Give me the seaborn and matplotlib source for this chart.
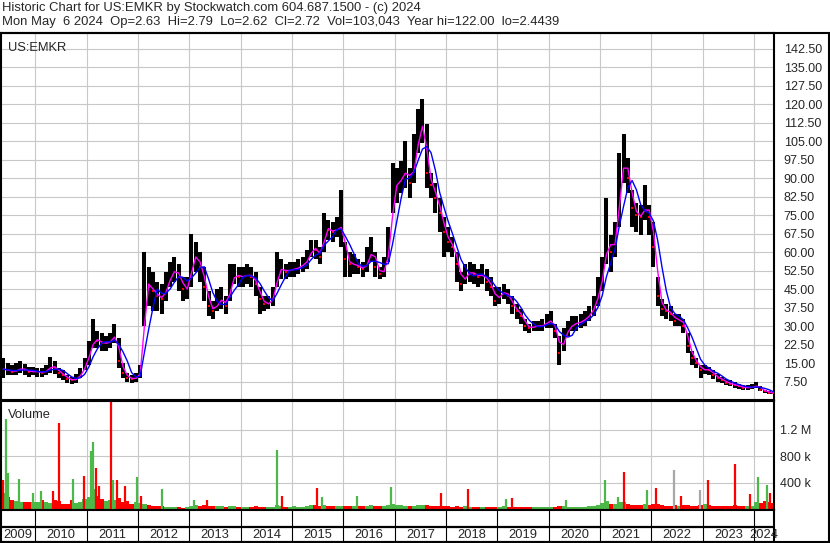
import numpy as np
import pandas as pd
import seaborn as sns
import matplotlib
matplotlib.use("Agg")
import matplotlib.pyplot as plt

W, H = 830, 543

# monthly bars, first bar = May 2009
first_month = 2009 + 4 / 12
close = [12.5, 12, 11.5, 12, 13, 12, 11.5, 11.5,
         11.5, 11, 12, 14, 13, 11, 10, 8.5, 8, 8.5, 11, 14,
         20, 25, 24, 23, 23, 24, 27, 16, 11, 9, 8.5, 9,
         12, 48, 46, 44, 42, 41, 46, 51, 53, 50, 45, 45,
         58, 58, 54, 46, 38, 36, 40, 41, 38, 48, 51, 50,
         50, 51, 50, 47, 41, 39, 39, 42, 53, 53, 52, 53,
         53, 54, 55, 57, 62, 61, 58, 70, 69, 68, 70, 70,
         57, 55, 55, 54, 53, 56, 62, 54, 51, 53, 63, 86,
         88, 90, 94, 88, 97, 110, 112, 92, 87, 82, 76, 68,
         64, 62, 55, 47, 51, 52, 51, 50, 51, 48, 46, 40,
         43, 44, 42, 38, 36, 34, 30, 29, 30, 30, 30, 32,
         32, 28, 19, 26, 29, 31, 31, 32, 33, 35, 38, 44,
         52, 66, 60, 66, 90, 98, 90, 78, 75, 74, 80, 74,
         62, 42, 37, 36, 35, 32, 33, 30, 22, 17, 15, 12,
         12.5, 12, 10, 9, 8, 7, 6.5, 6, 5.5, 5, 5, 5.2,
         6, 4.2, 3.5, 3, 2.72]
high = [17, 15, 14, 15, 16, 14.5, 13.5, 13.5,
        13, 13, 14, 17.5, 16, 13, 12, 10, 9.5, 10.5, 13, 17,
        24, 33, 28, 27, 26, 27, 31, 25, 15, 11, 10, 11,
        14, 60, 54, 52, 48, 47, 52, 56, 58, 55, 50, 50,
        67.5, 64, 60, 54, 44, 40, 45, 46, 42, 55, 55, 54,
        54, 55, 54, 52, 46, 42, 42, 46, 60, 57, 55, 56,
        56, 57, 58, 61, 65, 65, 62, 76, 73, 72, 74, 85,
        64, 60, 59, 57, 56, 62, 66, 60, 54, 58, 70, 96,
        94, 97, 105, 94, 108, 118, 122, 112, 92, 88, 82, 74,
        70, 66, 60, 52, 55, 56, 55, 53, 55, 53, 50, 46,
        46, 47, 45, 42, 39, 37, 33, 31, 32, 32, 33, 35,
        36, 31, 26, 29, 32, 34, 34, 35, 36, 38, 42, 50,
        58, 82, 67, 72, 100, 108, 98, 85, 80, 79, 87, 79,
        72, 50, 41, 39, 38, 35, 35, 33, 27, 20, 17, 14,
        14, 13.5, 12, 10.5, 9.5, 8.5, 8, 7.5, 6.5, 6, 6, 6.5,
        7.5, 5.5, 4.2, 3.6, 3]
low = [9, 10, 10, 10, 11, 10, 9.5, 10,
       9.5, 9.5, 10, 11, 10.5, 9, 8, 7, 6.5, 7, 9, 12,
       14, 21, 21, 20, 20, 21, 23, 13, 9, 7.5, 7, 7.5,
       9, 30, 38, 36, 36, 35, 40, 46, 48, 44, 40, 41,
       46, 52, 48, 40, 34, 33, 36, 37, 35, 40, 47, 46,
       46, 47, 46, 42, 35, 36, 37, 38, 46, 49, 49, 50,
       50, 51, 52, 53, 58, 57, 55, 60, 65, 64, 66, 62,
       50, 50, 51, 51, 50, 52, 56, 50, 49, 50, 56, 76,
       80, 84, 86, 82, 88, 100, 104, 86, 82, 76, 68, 58,
       60, 58, 48, 44, 47, 48, 47, 46, 47, 44, 42, 38,
       39, 41, 39, 35, 33, 31, 28, 27, 28, 28, 28, 29,
       29, 25, 14, 20, 26, 28, 28, 29, 30, 32, 34, 38,
       44, 55, 52, 58, 70, 88, 84, 70, 68, 67, 73, 67,
       54, 38, 34, 33, 32, 30, 30, 27, 19, 14, 13, 9,
       10.5, 10, 8.5, 7.5, 7, 6, 5.5, 5, 4.5, 4.2, 4.2, 4.5,
       5, 3.5, 3, 2.6, 2.44]
# typical volume per month, thousands
vol_base = [250, 180, 130, 120, 100, 110, 100, 110,
            100, 130, 110, 90, 140, 120, 80, 70, 130, 90, 110, 150,
            180, 300, 200, 150, 120, 130, 140, 160, 110, 120, 80, 100,
            90, 80, 60, 50, 40, 50, 30, 25, 25, 25, 20, 25,
            50, 60, 50, 60, 50, 40, 40, 40, 35, 45, 40, 35,
            35, 30, 30, 40, 35, 30, 25, 30, 60, 40, 30, 30,
            40, 35, 35, 40, 60, 60, 50, 60, 50, 40, 40, 50,
            50, 50, 45, 40, 40, 45, 55, 50, 40, 40, 55, 70,
            60, 55, 50, 45, 50, 60, 60, 55, 45, 40, 45, 40,
            40, 35, 40, 35, 40, 35, 30, 30, 30, 35, 30, 35,
            30, 40, 35, 30, 30, 25, 25, 25, 25, 25, 25, 25,
            25, 30, 50, 40, 35, 30, 30, 30, 35, 40, 45, 60,
            90, 120, 80, 70, 100, 110, 70, 60, 55, 60, 70, 60,
            70, 80, 55, 50, 50, 55, 50, 55, 60, 50, 50, 60,
            70, 60, 50, 45, 45, 50, 50, 60, 45, 45, 40, 50,
            100, 90, 120, 100, 90]
# single heavy-volume weeks
spike_date = [2009.37, 2009.43, 2009.47, 2009.68, 2009.95, 2010.11, 2010.34, 2010.465,
              2010.73, 2010.945, 2011.08, 2011.12, 2011.18, 2011.24, 2011.47, 2011.51,
              2011.59, 2011.74, 2011.98, 2012.05, 2012.46, 2013.09, 2013.34, 2014.70,
              2014.80, 2015.48, 2015.58, 2016.26, 2016.92, 2017.91, 2018.43, 2019.17,
              2019.29, 2020.34, 2021.10, 2021.35, 2021.46, 2021.91, 2022.09, 2022.45,
              2022.58, 2022.95, 2023.10, 2023.62, 2023.925, 2024.085, 2024.25, 2024.31]
spike_vol = [436, 1370, 540, 460, 240, 270, 270, 1310,
             460, 508, 880, 1010, 625, 350, 1620, 446,
             436, 354, 487, 190, 300, 140, 140, 890,
             200, 318, 180, 190, 333, 240, 303, 150,
             164, 140, 446, 180, 560, 282, 318, 590,
             200, 292, 436, 677, 230, 487, 370, 250]
spike_kind = ["dn", "up", "up", "up", "up", "up", "dn", "dn",
              "up", "dn", "up", "up", "dn", "dn", "dn", "up",
              "dn", "dn", "up", "dn", "up", "up", "dn", "up",
              "dn", "dn", "up", "up", "up", "dn", "dn", "up",
              "dn", "up", "up", "up", "dn", "up", "dn", "flat",
              "dn", "flat", "dn", "dn", "dn", "up", "up", "dn"]
price_ticks = [7.5 * k for k in range(1, 20)]
vol_ticks = [400, 800, 1200]
vol_labels = ["400 k", "800 k", "1.2 M"]
years = list(range(2009, 2025))
header1 = "Historic Chart for US:EMKR by Stockwatch.com 604.687.1500 - (c) 2024"
header2 = ("Mon May  6 2024  Op=2.63  Hi=2.79  Lo=2.62  Cl=2.72  Vol=103,043  "
           "Year hi=122.00  lo=2.4439")

sns.set_style("white")
plt.rcParams["font.family"] = ["Liberation Sans", "DejaVu Sans"]
plt.rcParams["font.size"] = 9

GREEN, RED, GREY, GRID = "#4cb848", "#ff0000", "#a8a8a8", "#c8c8c8"
colors = {"up": GREEN, "dn": RED, "flat": GREY}

df = pd.DataFrame({"close": close, "high": high, "low": low, "vol": vol_base})
df["t"] = first_month + (np.arange(len(df)) + 0.5) / 12
df["fast"] = df["close"].rolling(2, min_periods=1).mean()
df["slow"] = df["close"].rolling(4, min_periods=1).mean()
df["dir"] = np.where(df["close"].diff().fillna(0) < 0, "dn", "up")

x_lo = 2010 - 34.4 / 51.4
x_hi = 2010 + (774 - 34.4) / 51.4


def rect(x0, y0, x1, y1):
    return [x0 / W, 1 - y1 / H, (x1 - x0) / W, (y1 - y0) / H]


fig = plt.figure(figsize=(W / 100, H / 100), dpi=100)
ax = fig.add_axes(rect(1, 33, 774, 400))
axv = fig.add_axes(rect(1, 401, 774, 510))
axs = fig.add_axes(rect(1, 510, 774, 542))

# price panel
for y in price_ticks:
    ax.axhline(y, color=GRID, lw=0.8, zorder=0)
for yr in years[1:]:
    ax.axvline(yr, color=GRID, lw=0.8, zorder=0)
ax.vlines(df["t"], df["low"], df["high"], color="black", lw=2.9, zorder=2)
dn = df[df["dir"] == "dn"]
ax.scatter(dn["t"], dn["close"], marker="s", s=2.5, color=RED, lw=0, zorder=3)
sns.lineplot(data=df, x="t", y="fast", color="#ff00ff", lw=1.0, ax=ax, zorder=4)
sns.lineplot(data=df, x="t", y="slow", color="#0000ff", lw=1.0, ax=ax, zorder=5)
ax.set_xlim(x_lo, x_hi)
ax.set_ylim(0, 148.8)
ax.set_xticks([])
ax.yaxis.tick_right()
ax.set_yticks(price_ticks)
ax.set_yticklabels([f"{v:.2f}" for v in price_ticks])
ax.tick_params(axis="y", length=0, pad=7, labelsize=9)
ax.set_xlabel("")
ax.set_ylabel("")
ax.text(0.009, 0.975, "US:EMKR", transform=ax.transAxes, va="top", ha="left", fontsize=9.3)

# volume panel
for v in vol_ticks:
    axv.axhline(v * 1000, color=GRID, lw=0.8, zorder=0)
for yr in years[1:]:
    axv.axvline(yr, color=GRID, lw=0.8, zorder=0)
axv.bar(df["t"], df["vol"] * 1000, width=1 / 12,
        color=[colors[d] for d in df["dir"]], lw=0, zorder=2)
axv.vlines(spike_date, 0, np.array(spike_vol) * 1000,
           colors=[colors[k] for k in spike_kind], lw=1.6, zorder=3)
axv.set_xlim(x_lo, x_hi)
axv.set_ylim(-15000, 1.64e6)
axv.set_xticks([])
axv.yaxis.tick_right()
axv.set_yticks([v * 1000 for v in vol_ticks])
axv.set_yticklabels(vol_labels)
axv.tick_params(axis="y", length=0, pad=4, labelsize=9)
axv.text(0.009, 0.93, "Volume", transform=axv.transAxes, va="top", ha="left", fontsize=9.3)

# year strip
axs.set_xlim(x_lo, x_hi)
axs.set_ylim(32, 0)
axs.axhline(17, color="black", lw=1.6)
for yr in years[1:]:
    axs.axvline(yr, color="black", lw=0.8)
for yr in years:
    a, b = max(yr, x_lo), min(yr + 1, x_hi)
    axs.text((a + b) / 2, 24.5, str(yr), ha="center", va="center", fontsize=9.3)
axs.set_xticks([])
axs.set_yticks([])

for a in (ax, axv, axs):
    for s in a.spines.values():
        s.set_color("black")
        s.set_linewidth(1.5)

# header and outer frame in pixel space
ov = fig.add_axes([0, 0, 1, 1], zorder=10)
ov.set_xlim(0, W)
ov.set_ylim(H, 0)
ov.axis("off")
ov.text(2, 8, header1, va="center", ha="left", fontsize=9.4)
ov.text(2, 22.5, header2, va="center", ha="left", fontsize=9.4)
ov.plot([0, W], [33, 33], color="black", lw=1.5)
ov.plot([828.5, 828.5], [33, 542], color="black", lw=1.5)
ov.plot([0, W], [542, 542], color="black", lw=1.5)

fig.savefig("out.png", dpi=100)
